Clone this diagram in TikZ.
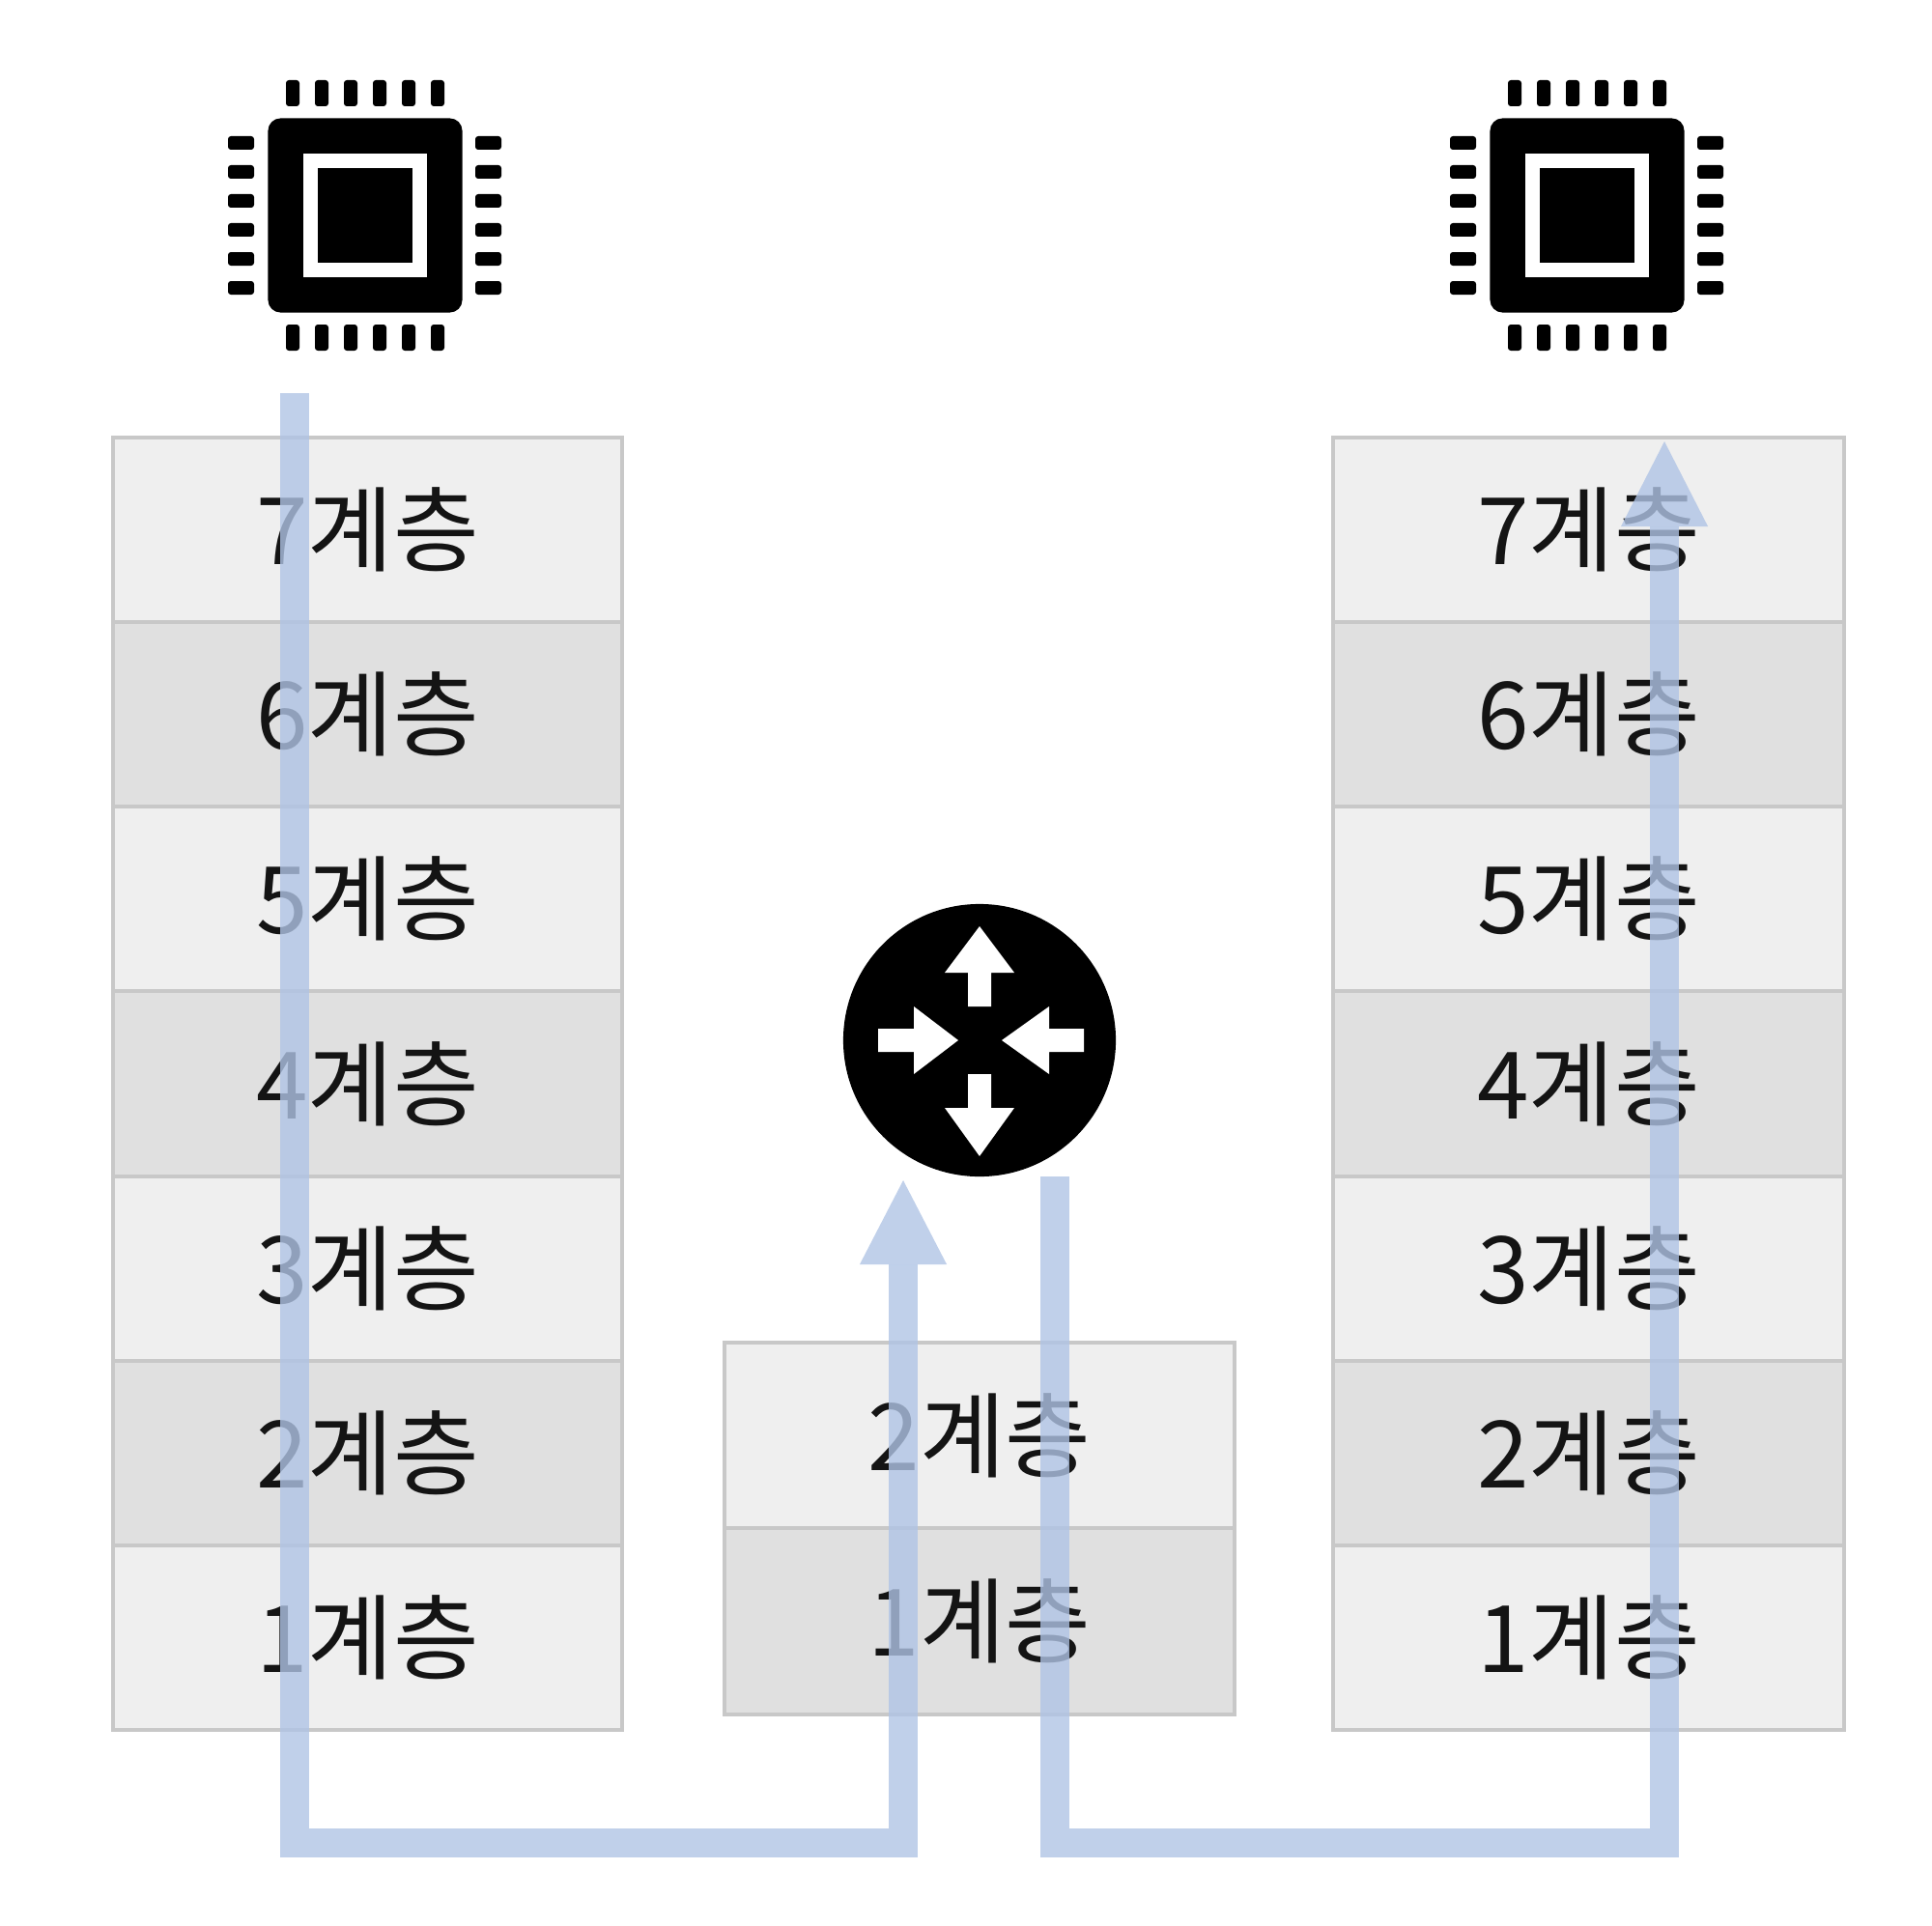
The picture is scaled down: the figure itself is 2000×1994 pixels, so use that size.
\documentclass[tikz,border=0pt]{standalone}
\usepackage{fontspec}
\setmainfont{Noto Sans CJK KR}
\definecolor{cellline}{HTML}{C8C8C8}
\definecolor{celllight}{HTML}{EFEFEF}
\definecolor{celldark}{HTML}{E0E0E0}
\definecolor{wireblue}{RGB}{176,196,229}
\tikzset{
  lightcell/.style={draw=cellline,line width=0.04cm,fill=celllight,minimum height=1.91cm,font=\fontsize{27.4}{27.4}\selectfont,text=black!92},
  darkcell/.style={lightcell,fill=celldark},
  wire/.style={draw=wireblue,line width=0.3cm,opacity=0.8},
  wirehead/.style={fill=wireblue,opacity=0.8},
  chipbody/.style={fill=black,rounded corners=0.13cm,minimum size=2.01cm},
  chipring/.style={fill=white,minimum size=1.27cm},
  chipcore/.style={fill=black,minimum size=0.97cm},
  chippin/.style={fill=black,rounded corners=0.03cm},
  routerdisc/.style={circle,fill=black,minimum size=2.82cm}
}
\begin{document}
\begin{tikzpicture}[x=0.01cm,y=-0.01cm]
\tikzstyle{every node}+=[inner sep=0pt]
\useasboundingbox (0,0) rectangle (2000,1994);
\draw (380.5,548.5) node [lightcell,minimum width=5.27cm] (leftseven) {7계층};
\draw (380.5,739.5) node [darkcell,minimum width=5.27cm] (leftsix) {6계층};
\draw (380.5,930.5) node [lightcell,minimum width=5.27cm] (leftfive) {5계층};
\draw (380.5,1122) node [darkcell,minimum width=5.27cm] (leftfour) {4계층};
\draw (380.5,1313.5) node [lightcell,minimum width=5.27cm] (leftthree) {3계층};
\draw (380.5,1504.5) node [darkcell,minimum width=5.27cm] (lefttwo) {2계층};
\draw (380.5,1695.5) node [lightcell,minimum width=5.27cm] (leftone) {1계층};
\draw (1014,1486) node [lightcell,minimum width=5.28cm] (midtwo) {2계층};
\draw (1014,1678.5) node [darkcell,minimum width=5.28cm,minimum height=1.93cm] (midone) {1계층};
\draw (1644.5,548.5) node [lightcell,minimum width=5.29cm] (rightseven) {7계층};
\draw (1644.5,739.5) node [darkcell,minimum width=5.29cm] (rightsix) {6계층};
\draw (1644.5,930.5) node [lightcell,minimum width=5.29cm] (rightfive) {5계층};
\draw (1644.5,1122) node [darkcell,minimum width=5.29cm] (rightfour) {4계층};
\draw (1644.5,1313.5) node [lightcell,minimum width=5.29cm] (rightthree) {3계층};
\draw (1644.5,1504.5) node [darkcell,minimum width=5.29cm] (righttwo) {2계층};
\draw (1644.5,1695.5) node [lightcell,minimum width=5.29cm] (rightone) {1계층};
% chips
\draw (378,223) node [chipbody] (leftchip) {};
\draw (378,223) node [chipring] (leftring) {};
\draw (378,223) node [chipcore] (leftcore) {};
\draw (1643,223) node [chipbody] (rightchip) {};
\draw (1643,223) node [chipring] (rightring) {};
\draw (1643,223) node [chipcore] (rightcore) {};
\foreach \cx in {378,1643}
  \foreach \d in {-75,-45,-15,15,45,75} {
    \fill [chippin] ({\cx+\d-7},83) rectangle +(14,27);
    \fill [chippin] ({\cx+\d-7},336) rectangle +(14,27);
    \fill [chippin] ({\cx-142},{223+\d-7}) rectangle +(27,14);
    \fill [chippin] ({\cx+114},{223+\d-7}) rectangle +(27,14);
  }
% router
\draw (1014,1077) node [routerdisc] (router) {};
\begin{scope}[shift={(1014,1077)}]
\fill [white] (0,-118) -- (36,-70) -- (12,-70) -- (12,-35) -- (-12,-35) -- (-12,-70) -- (-36,-70) -- cycle;
\fill [white] (0,120) -- (36,70) -- (12,70) -- (12,35) -- (-12,35) -- (-12,70) -- (-36,70) -- cycle;
\fill [white] (-22,0) -- (-68,-35) -- (-68,-12) -- (-105,-12) -- (-105,12) -- (-68,12) -- (-68,35) -- cycle;
\fill [white] (23,0) -- (72,-35) -- (72,-12) -- (108,-12) -- (108,12) -- (72,12) -- (72,35) -- cycle;
\end{scope}
% wires
\coordinate (leftstart) at (305,407);
\coordinate (leftcorner) at (305,1908);
\coordinate (incorner) at (935,1908);
\coordinate (inbase) at (935,1309);
\coordinate (intip) at (935,1222);
\coordinate (outstart) at (1092,1218);
\coordinate (outcorner) at (1092,1908);
\coordinate (rightcorner) at (1723,1908);
\coordinate (rightbase) at (1723,545);
\coordinate (righttip) at (1723,457);
\draw [wire] (leftstart) -- (leftcorner) -- (incorner) -- (inbase);
\fill [wirehead] (intip) -- ([xshift=0.45cm]inbase) -- ([xshift=-0.45cm]inbase) -- cycle;
\draw [wire] (outstart) -- (outcorner) -- (rightcorner) -- (rightbase);
\fill [wirehead] (righttip) -- ([xshift=0.45cm]rightbase) -- ([xshift=-0.45cm]rightbase) -- cycle;
\end{tikzpicture}
\end{document}
